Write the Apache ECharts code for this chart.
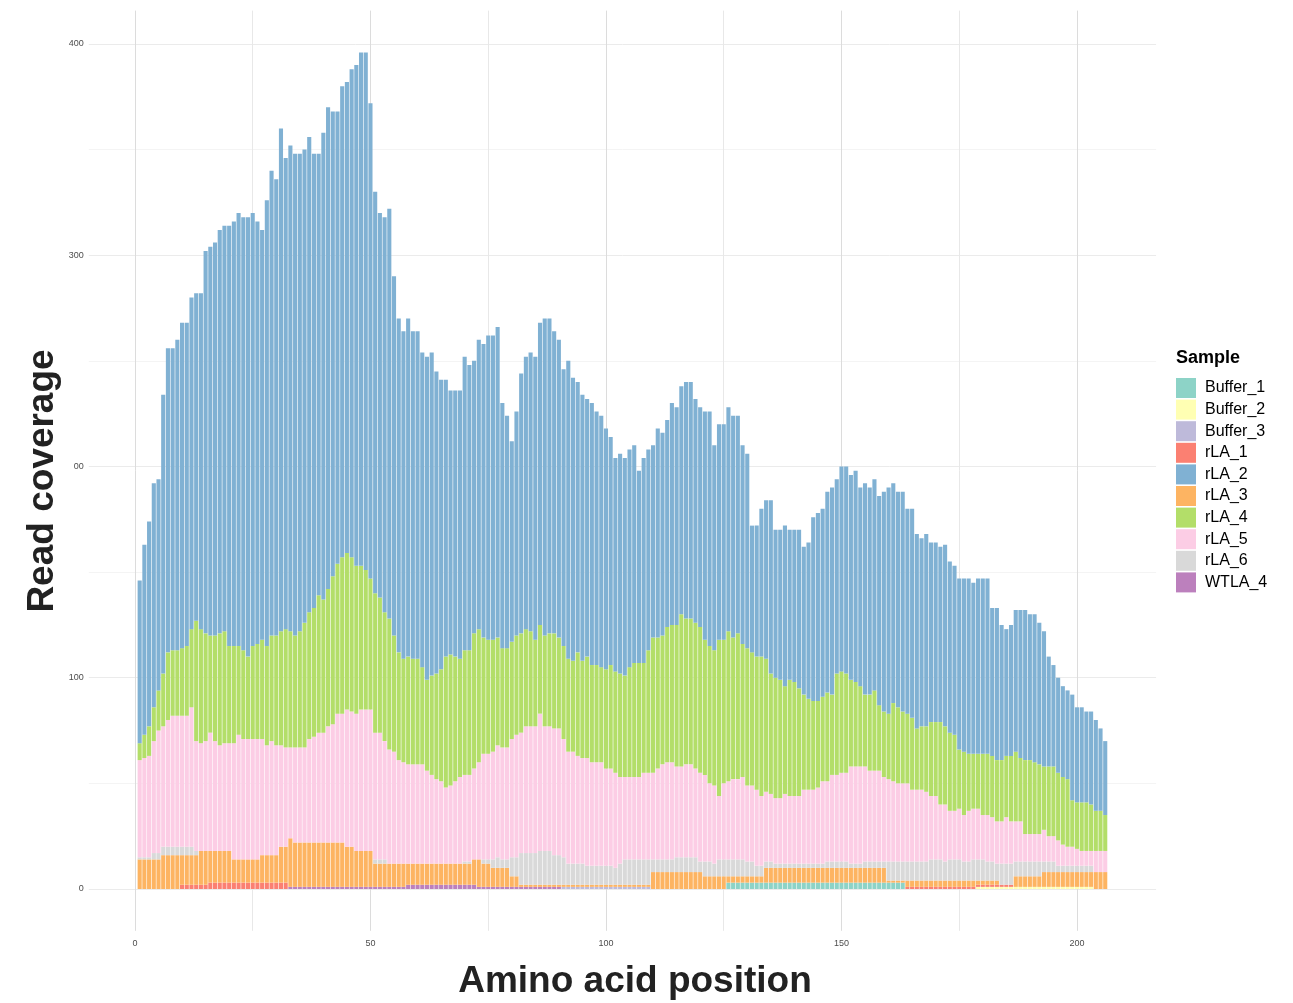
<!DOCTYPE html>
<html><head><meta charset="utf-8">
<script src="https://cdn.jsdelivr.net/npm/echarts@6/dist/echarts.min.js"></script>
<style>html,body{margin:0;padding:0;background:#fff}#c{width:1293px;height:1003px}</style>
</head><body><div id="c"></div>
<script>
// ---------------- data ----------------
const legendOrder = ['Buffer_1','Buffer_2','Buffer_3','rLA_1','rLA_2','rLA_3','rLA_4','rLA_5','rLA_6','WTLA_4'];
const stackOrder  = ['Buffer_1','Buffer_2','Buffer_3','rLA_1','WTLA_4','rLA_3','rLA_6','rLA_5','rLA_4','rLA_2'];
const sampleColors = {Buffer_1:'#8DD3C7',Buffer_2:'#FFFFB3',Buffer_3:'#BEBADA',rLA_1:'#FB8072',rLA_2:'#80B1D3',
  rLA_3:'#FDB462',rLA_4:'#B3DE69',rLA_5:'#FCCDE5',rLA_6:'#D9D9D9',WTLA_4:'#BC80BD'};

const positions = Array.from({length:206}, (_, i) => i + 1);   // amino acid positions 1..206

const xTickValues  = [0,25,50,75,100,125,150,175,200];
const xLabelValues = [0,50,100,150,200];
const yTickValues  = [0,50,100,150,200,250,300,350,400];
const yLabelValues = [0,100,200,300,400];
const yLabelTexts  = ['0','100','00','300','400'];

const rLA_2 = [
 77,90,97,106,100,132,144,143,147,154,
 153,157,155,159,181,184,186,191,192,199,
 201,205,205,208,205,200,194,211,220,216,
 238,223,230,228,226,224,225,215,209,221,
 228,220,214,223,223,231,237,243,245,225,
 190,182,187,194,170,158,155,160,155,155,
 149,153,153,143,137,131,125,126,127,139,
 135,129,137,139,144,144,147,116,110,95,
 106,123,129,132,134,143,150,149,143,141,
 131,141,134,128,126,122,124,120,119,114,
 108,101,104,103,103,103,91,97,95,91,
 99,96,98,105,103,108,112,112,106,104,
 108,111,97,102,102,106,105,103,94,92,
 60,62,70,75,82,70,71,76,71,72,
 75,70,74,87,89,89,95,98,92,97,
 98,97,100,94,100,98,100,99,104,107,
 104,102,104,97,99,92,89,91,85,85,
 83,86,81,80,81,82,83,81,83,83,
 83,70,72,64,60,62,67,70,71,69,
 70,67,64,52,48,45,43,42,50,45,
 45,43,44,43,39,35];

const rLA_4 = [
 8,11,14,16,19,25,32,31,31,32,
 33,37,57,54,51,46,50,53,53,46,
 46,42,42,39,44,45,47,47,50,52,
 54,56,55,53,55,59,60,61,65,63,
 65,70,71,74,74,73,70,68,66,62,
 66,64,61,62,55,51,49,51,50,50,
 46,43,47,50,53,62,62,59,56,59,
 59,64,63,55,54,53,51,47,47,46,
 47,47,46,45,41,42,43,44,45,43,
 44,44,43,49,46,48,46,46,45,47,
 49,48,49,48,52,54,54,52,58,64,
 62,61,64,65,67,72,69,69,69,69,
 64,65,64,74,68,71,67,69,63,65,
 63,63,66,63,57,57,56,51,55,54,
 51,45,43,42,41,40,42,38,48,48,
 47,41,40,38,34,36,38,31,31,31,
 37,36,34,33,34,29,30,31,35,35,
 39,37,37,36,28,30,27,26,26,29,
 29,29,29,29,29,31,33,30,35,35,
 34,33,30,33,33,32,32,32,22,22,
 23,23,22,19,19,17];

const rLA_5 = [
 46,47,48,53,58,57,60,62,62,62,
 62,66,52,51,52,56,52,50,51,51,
 55,59,57,57,57,57,55,52,54,52,
 48,47,43,45,45,45,49,50,52,52,
 55,56,61,61,65,64,65,67,67,67,
 60,60,56,54,53,49,48,47,47,47,
 47,44,42,40,39,36,37,39,41,41,
 41,43,46,50,50,51,53,53,53,56,
 58,57,60,60,60,65,59,59,60,60,
 56,53,53,51,50,51,49,49,49,46,
 46,45,41,39,39,39,39,41,41,41,
 43,45,46,46,43,43,44,44,42,42,
 41,37,37,30,36,37,38,38,39,36,
 36,36,33,33,32,31,31,33,32,32,
 32,35,35,35,36,39,38,41,41,42,
 42,46,46,46,45,43,43,43,40,39,
 38,37,37,37,34,34,34,33,30,30,
 26,27,23,23,24,22,24,24,24,21,
 22,21,20,20,22,20,19,19,13,13,
 13,13,15,12,12,12,10,9,9,8,
 7,7,7,10,10,10];

const rLA_6 = [
 1,1,1,3,3,4,4,4,4,4,
 4,4,2,0,0,0,0,0,0,0,
 0,0,0,0,0,0,0,0,0,0,
 0,0,0,0,0,0,0,0,0,0,
 0,0,0,0,0,0,0,0,0,0,
 2,2,2,0,0,0,0,0,0,0,
 0,0,0,0,0,0,0,0,0,1,
 1,0,0,2,2,4,5,4,4,9,
 9,15,15,15,15,16,16,16,14,14,
 13,10,10,10,10,9,9,9,9,9,
 9,8,10,12,12,12,12,12,12,6,
 6,6,6,6,7,7,7,7,7,5,
 7,7,6,8,8,8,8,8,8,7,
 7,5,5,3,3,2,2,2,2,2,
 2,2,2,2,2,2,3,3,3,3,
 3,2,2,2,3,3,3,3,3,9,
 9,9,9,9,9,9,9,9,10,10,
 10,9,10,10,10,9,9,10,10,10,
 9,9,8,10,10,10,7,7,7,7,
 7,7,5,5,5,3,3,3,3,3,
 3,3,3,0,0,0];

const rLA_3 = [
 14,14,14,14,14,16,16,16,16,14,
 14,14,14,16,16,15,15,15,15,15,
 11,11,11,11,11,11,13,13,13,13,
 17,17,23,21,21,21,21,21,21,21,
 21,21,21,21,19,19,17,17,17,17,
 11,11,11,11,11,11,11,10,10,10,
 10,10,10,10,10,10,10,10,10,10,
 10,12,13,11,11,9,9,9,9,5,
 5,1,1,1,1,1,1,1,1,1,
 1,1,1,1,1,1,1,1,1,1,
 1,1,1,1,1,1,1,1,1,8,
 8,8,8,8,8,8,8,8,8,8,
 6,6,6,6,6,3,3,3,3,3,
 3,3,3,7,7,7,7,7,7,7,
 7,7,7,7,7,7,7,7,7,7,
 7,7,7,7,7,7,7,7,7,1,
 1,1,1,3,3,3,3,3,3,3,
 3,3,3,3,3,3,3,3,2,2,
 2,2,2,0,0,0,5,5,5,5,
 5,5,7,7,7,7,7,7,7,7,
 7,7,7,8,8,8];

const rLA_1 = [
 0,0,0,0,0,0,0,0,0,2,
 2,2,2,2,2,3,3,3,3,3,
 3,3,3,3,3,3,3,3,3,3,
 3,3,0,0,0,0,0,0,0,0,
 0,0,0,0,0,0,0,0,0,0,
 0,0,0,0,0,0,0,0,0,0,
 0,0,0,0,0,0,0,0,0,0,
 0,0,0,0,0,0,0,0,0,0,
 0,0,0,0,0,0,0,0,0,0,
 0,0,0,0,0,0,0,0,0,0,
 0,0,0,0,0,0,0,0,0,0,
 0,0,0,0,0,0,0,0,0,0,
 0,0,0,0,0,0,0,0,0,0,
 0,0,0,0,0,0,0,0,0,0,
 0,0,0,0,0,0,0,0,0,0,
 0,0,0,0,0,0,0,0,0,0,
 0,0,0,1,1,1,1,1,1,1,
 1,1,1,1,1,1,1,1,1,1,
 1,1,1,1,1,1,0,0,0,0,
 0,0,0,0,0,0,0,0,0,0,
 0,0,0,0,0,0];

const WTLA_4 = [
 0,0,0,0,0,0,0,0,0,0,
 0,0,0,0,0,0,0,0,0,0,
 0,0,0,0,0,0,0,0,0,0,
 0,0,1,1,1,1,1,1,1,1,
 1,1,1,1,1,1,1,1,1,1,
 1,1,1,1,1,1,1,2,2,2,
 2,2,2,2,2,2,2,2,2,2,
 2,2,1,1,1,1,1,1,1,1,
 1,1,1,1,1,1,1,1,1,1,
 0,0,0,0,0,0,0,0,0,0,
 0,0,0,0,0,0,0,0,0,0,
 0,0,0,0,0,0,0,0,0,0,
 0,0,0,0,0,0,0,0,0,0,
 0,0,0,0,0,0,0,0,0,0,
 0,0,0,0,0,0,0,0,0,0,
 0,0,0,0,0,0,0,0,0,0,
 0,0,0,0,0,0,0,0,0,0,
 0,0,0,0,0,0,0,0,0,0,
 0,0,0,0,0,0,0,0,0,0,
 0,0,0,0,0,0,0,0,0,0,
 0,0,0,0,0,0];

const Buffer_3 = [
 0,0,0,0,0,0,0,0,0,0,
 0,0,0,0,0,0,0,0,0,0,
 0,0,0,0,0,0,0,0,0,0,
 0,0,0,0,0,0,0,0,0,0,
 0,0,0,0,0,0,0,0,0,0,
 0,0,0,0,0,0,0,0,0,0,
 0,0,0,0,0,0,0,0,0,0,
 0,0,0,0,0,0,0,0,0,0,
 0,0,0,0,0,0,0,0,0,0,
 1,1,1,1,1,1,1,1,1,1,
 1,1,1,1,1,1,1,1,1,0,
 0,0,0,0,0,0,0,0,0,0,
 0,0,0,0,0,0,0,0,0,0,
 0,0,0,0,0,0,0,0,0,0,
 0,0,0,0,0,0,0,0,0,0,
 0,0,0,0,0,0,0,0,0,0,
 0,0,0,0,0,0,0,0,0,0,
 0,0,0,0,0,0,0,0,0,0,
 0,0,0,0,0,0,0,0,0,0,
 0,0,0,0,0,0,0,0,0,0,
 0,0,0,0,0,0];

const Buffer_1 = [
 0,0,0,0,0,0,0,0,0,0,
 0,0,0,0,0,0,0,0,0,0,
 0,0,0,0,0,0,0,0,0,0,
 0,0,0,0,0,0,0,0,0,0,
 0,0,0,0,0,0,0,0,0,0,
 0,0,0,0,0,0,0,0,0,0,
 0,0,0,0,0,0,0,0,0,0,
 0,0,0,0,0,0,0,0,0,0,
 0,0,0,0,0,0,0,0,0,0,
 0,0,0,0,0,0,0,0,0,0,
 0,0,0,0,0,0,0,0,0,0,
 0,0,0,0,0,0,0,0,0,0,
 0,0,0,0,0,3,3,3,3,3,
 3,3,3,3,3,3,3,3,3,3,
 3,3,3,3,3,3,3,3,3,3,
 3,3,3,3,3,3,3,3,3,3,
 3,3,3,0,0,0,0,0,0,0,
 0,0,0,0,0,0,0,0,0,0,
 0,0,0,0,0,0,0,0,0,0,
 0,0,0,0,0,0,0,0,0,0,
 0,0,0,0,0,0];

const Buffer_2 = [
 0,0,0,0,0,0,0,0,0,0,
 0,0,0,0,0,0,0,0,0,0,
 0,0,0,0,0,0,0,0,0,0,
 0,0,0,0,0,0,0,0,0,0,
 0,0,0,0,0,0,0,0,0,0,
 0,0,0,0,0,0,0,0,0,0,
 0,0,0,0,0,0,0,0,0,0,
 0,0,0,0,0,0,0,0,0,0,
 0,0,0,0,0,0,0,0,0,0,
 0,0,0,0,0,0,0,0,0,0,
 0,0,0,0,0,0,0,0,0,0,
 0,0,0,0,0,0,0,0,0,0,
 0,0,0,0,0,0,0,0,0,0,
 0,0,0,0,0,0,0,0,0,0,
 0,0,0,0,0,0,0,0,0,0,
 0,0,0,0,0,0,0,0,0,0,
 0,0,0,0,0,0,0,0,0,0,
 0,0,0,0,0,0,0,0,1,1,
 1,1,1,1,1,1,1,1,1,1,
 1,1,1,1,1,1,1,1,1,1,
 1,1,1,0,0,0];

const sampleValues = {Buffer_1, Buffer_2, Buffer_3, rLA_1, rLA_2, rLA_3, rLA_4, rLA_5, rLA_6, WTLA_4};

// ---------------- layout ----------------
const X_MIN = -9.8, X_MAX = 216.8, Y_MIN = -19.8, Y_MAX = 415.8;
const G_LEFT = 88.8, G_RIGHT_PX = 1156.1, G_TOP = 10.6, G_BOTTOM_PX = 930.8;
const bandPx = (G_RIGHT_PX - G_LEFT) / (X_MAX - X_MIN);
// bar grid: category bands for positions 1..206, aligned with the value scale of the panel
const BAR_LEFT = G_LEFT + (positions[0] - 0.5 - X_MIN) * bandPx;
const BAR_WIDTH_PX = positions.length * bandPx;
const FONT = '"Liberation Sans", Arial, Helvetica, sans-serif';

const chart = echarts.init(document.getElementById('c'), null, {renderer:'canvas'});

const series = stackOrder.map(name => ({
  type: 'bar',
  name: name,
  stack: 'coverage',
  xAxisIndex: 1, yAxisIndex: 1,
  barWidth: bandPx - 0.6,
  itemStyle: {color: sampleColors[name]},
  emphasis: {disabled: true},
  data: sampleValues[name]
}));

chart.setOption({
  animation: false,
  backgroundColor: '#ffffff',
  grid: [
    {left: G_LEFT, top: G_TOP, width: G_RIGHT_PX - G_LEFT, height: G_BOTTOM_PX - G_TOP, containLabel: false},
    {left: BAR_LEFT, top: G_TOP, width: BAR_WIDTH_PX, height: G_BOTTOM_PX - G_TOP, containLabel: false}
  ],
  xAxis: [{
    gridIndex: 0, type: 'value', min: X_MIN, max: X_MAX,
    axisLine: {show: false},
    axisTick: {show: false, customValues: xTickValues},
    axisLabel: {customValues: xLabelValues, fontSize: 9, color: '#4d4d4d', fontFamily: FONT, margin: 8},
    splitLine: {show: true, lineStyle: {color: ['#dcdcdc', '#e8e8e8'], width: 1}}
  }, {
    gridIndex: 1, type: 'category', data: positions, boundaryGap: true,
    axisLine: {show: false}, axisTick: {show: false}, axisLabel: {show: false}, splitLine: {show: false}
  }],
  yAxis: [{
    gridIndex: 0, type: 'value', min: Y_MIN, max: Y_MAX,
    axisLine: {show: false},
    axisTick: {show: false, customValues: yTickValues},
    axisLabel: {customValues: yLabelValues, fontSize: 9, color: '#4d4d4d', fontFamily: FONT, margin: 5,
      formatter: v => yLabelTexts[yLabelValues.indexOf(v)]},
    splitLine: {show: true, lineStyle: {color: ['#ebebeb', '#f4f4f4'], width: 1}}
  }, {
    gridIndex: 1, type: 'value', min: Y_MIN, max: Y_MAX,
    axisLine: {show: false}, axisTick: {show: false}, axisLabel: {show: false}, splitLine: {show: false}
  }],
  legend: {
    data: legendOrder, orient: 'vertical', left: 1176, top: 378,
    itemWidth: 20, itemHeight: 20, itemGap: 1.6, icon: 'rect', padding: 0,
    selectedMode: false,
    textStyle: {fontSize: 16, color: '#000', fontFamily: FONT, padding: [0,0,0,4]}
  },
  graphic: [
    {type: 'text', x: 43, y: 481, rotation: Math.PI / 2,
      style: {text: 'Read coverage', font: 'bold 37px ' + FONT, fill: '#222', align: 'center', verticalAlign: 'middle'}},
    {type: 'text', x: 635, y: 982,
      style: {text: 'Amino acid position', font: 'bold 37px ' + FONT, fill: '#222', align: 'center', verticalAlign: 'middle'}},
    {type: 'text', x: 1176, y: 358,
      style: {text: 'Sample', font: 'bold 18px ' + FONT, fill: '#000', align: 'left', verticalAlign: 'middle'}}
  ],
  series: series
});
</script></body></html>
